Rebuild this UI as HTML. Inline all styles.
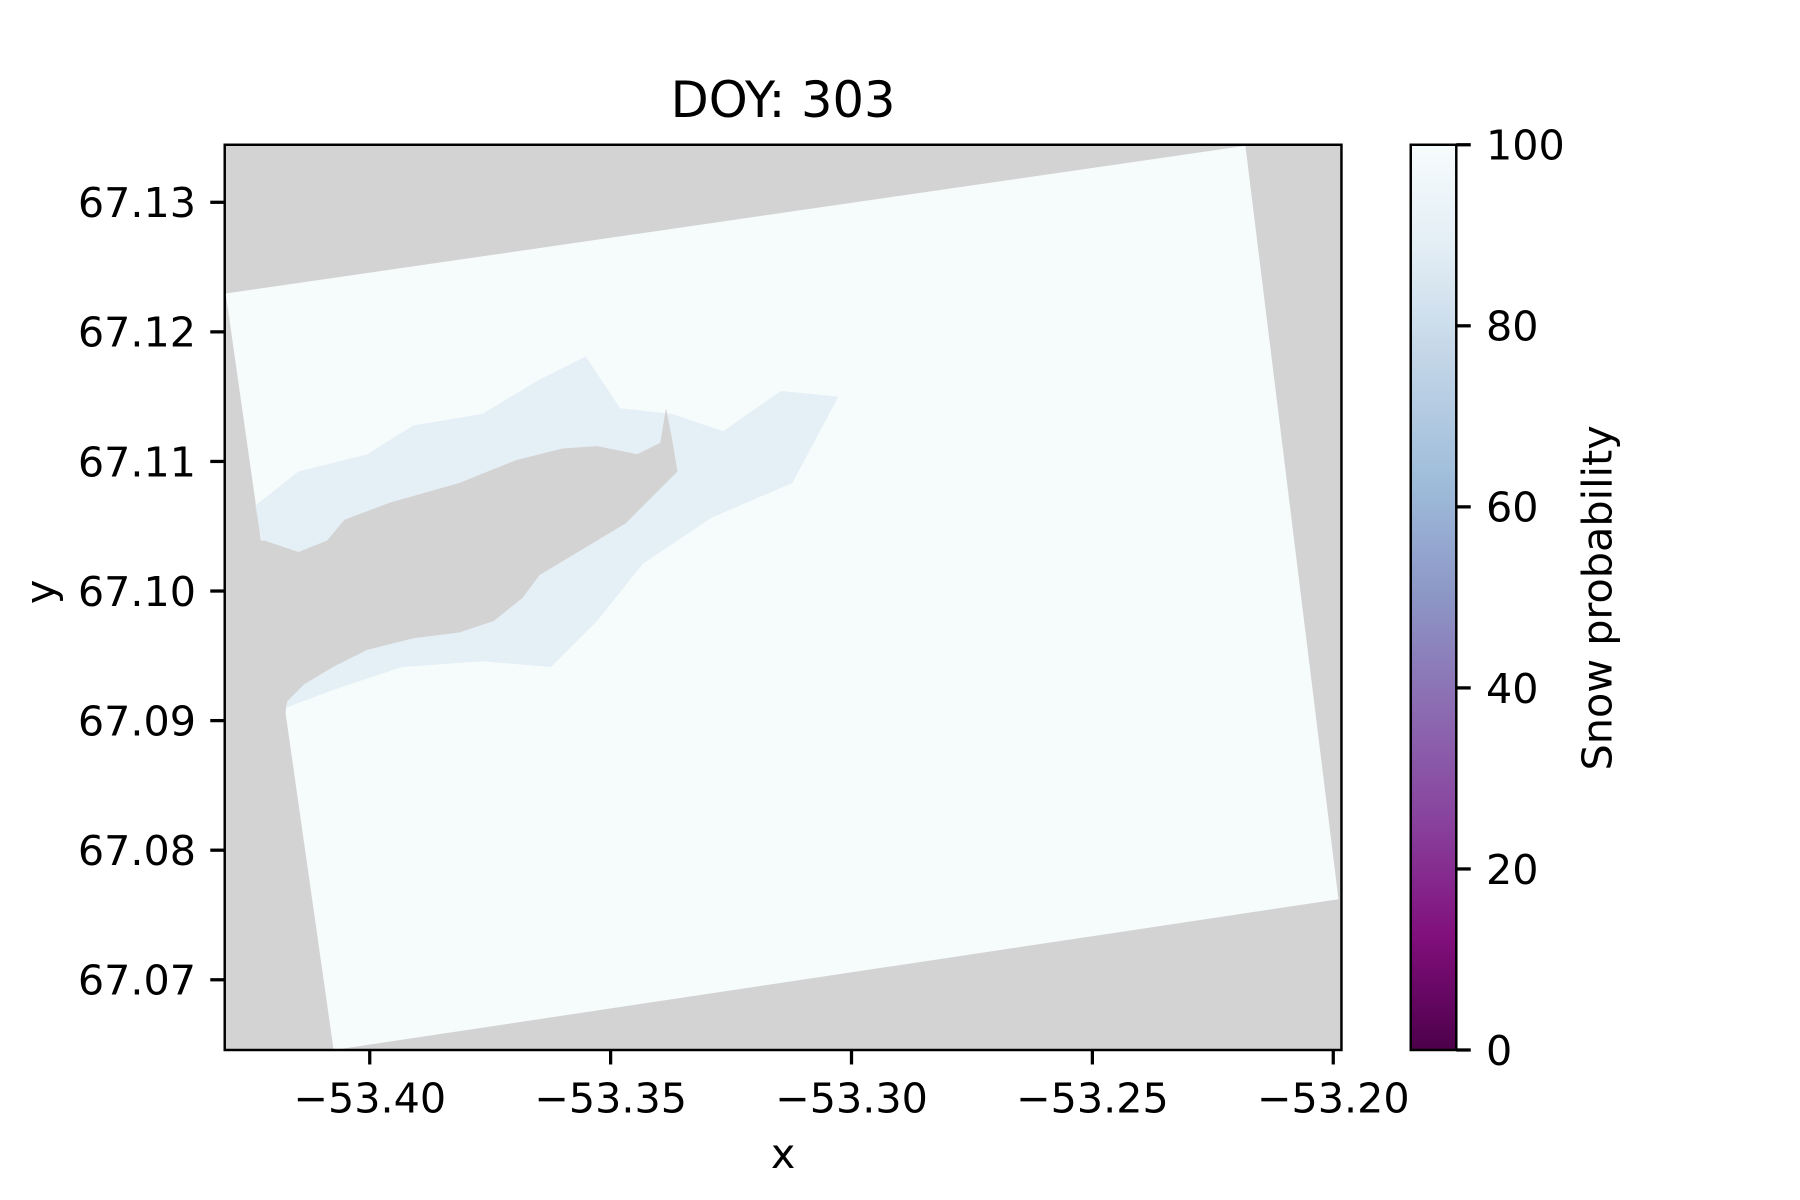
<!DOCTYPE html>
<html><head><meta charset="utf-8"><style>
body{margin:0;background:#fff;}
svg{display:block;font-family:"DejaVu Sans","Liberation Sans",sans-serif;}
</style></head><body>
<svg id="fig" width="1800" height="1200" viewBox="0 0 1800 1200">
<defs>
<linearGradient id="bupu" x1="0" y1="1" x2="0" y2="0">
<stop offset="0" stop-color="#4d004b"/><stop offset="0.125" stop-color="#810f7c"/>
<stop offset="0.25" stop-color="#88419d"/><stop offset="0.375" stop-color="#8c6bb1"/>
<stop offset="0.5" stop-color="#8c96c6"/><stop offset="0.625" stop-color="#9ebcda"/>
<stop offset="0.75" stop-color="#bfd3e6"/><stop offset="0.875" stop-color="#e0ecf4"/>
<stop offset="1" stop-color="#f7fcfd"/></linearGradient>
<clipPath id="ax"><rect x="227" y="146" width="1128" height="913"/></clipPath>
</defs>
<g transform="scale(0.990,0.9915)">
<g id="plot" clip-path="url(#ax)"></g>
<g id="axes"></g>
</g>
</svg>
<script>
const xTicks=[-53.40,-53.35,-53.30,-53.25,-53.20];
const yTicks=[67.07,67.08,67.09,67.10,67.11,67.12,67.13];
const cbTicks=[0,20,40,60,80,100];
const xLim=[-53.4301,-53.1983], yLim=[67.06458,67.13444];
const L=227,R=1355,T=146,B=1059;
const sx=v=>L+(v-xLim[0])/(xLim[1]-xLim[0])*(R-L);
const sy=v=>B-(v-yLim[0])/(yLim[1]-yLim[0])*(B-T);
const NS="http://www.w3.org/2000/svg";
function mk(tag,attrs,parent){const e=document.createElementNS(NS,tag);for(const k in attrs)e.setAttribute(k,attrs[k]);parent.appendChild(e);return e;}
const plot=document.getElementById('plot'),axes=document.getElementById('axes');
let bg=mk('rect',{x:L,y:T,width:R-L,height:B-T,fill:'#d3d3d3'},plot);


let sc=mk('polygon',{points:'228,296 1258,147 1352,907 337,1059',fill:'#f6fbfc'},plot);


const k=1.1598;
const sp=a=>a.map(p=>(p[0]*k).toFixed(1)+','+(p[1]*k).toFixed(1)).join(' ');
let z1=mk('polygon',{points:sp([[222,440],[260,410],[320,395],[360,370],[420,360],[470,330],[510,310],[540,355],[585,360],[630,375],[680,340],[730,345],[690,420],[620,450],[590,470],[560,490],[520,540],[480,580],[420,575],[350,580],[290,600],[250,615],[240,560],[230,480]]),fill:'#dbe7f1',opacity:0.6},plot);


let lake=mk('polygon',{points:sp([[190,470],[230,470],[260,480],[285,470],[300,452],[340,437],[400,420],[450,400],[490,390],[520,388],[555,395],[575,385],[580,355],[585,380],[590,410],[570,430],[545,455],[520,470],[495,485],[470,500],[455,520],[430,540],[400,550],[360,555],[320,565],[290,580],[265,595],[250,610],[248,625],[190,625]]),fill:'#d3d3d3'},plot);


let fr=mk('rect',{x:L,y:T,width:R-L,height:B-T,fill:'none',stroke:'#000','stroke-width':2.5},axes);


xTicks.forEach(v=>{const x=sx(v);
 mk('line',{x1:x,y1:B,x2:x,y2:B+14.6,stroke:'#000','stroke-width':3.3},axes);
 const t=mk('text',{x:x,y:1122,'font-size':41.7,'text-anchor':'middle'},axes);
 t.textContent='\u2212'+Math.abs(v).toFixed(2);
 
 });
yTicks.forEach(v=>{const y=sy(v);
 mk('line',{x1:L,y1:y,x2:L-14.6,y2:y,stroke:'#000','stroke-width':3.3},axes);
 const t=mk('text',{x:198,y:y+15,'font-size':41.7,'text-anchor':'end'},axes);
 t.textContent=v.toFixed(2);
 
 });
const CL=1425,CR=1471;
let cb=mk('rect',{x:CL,y:T,width:CR-CL,height:B-T,fill:'url(#bupu)',stroke:'#000','stroke-width':2.5},axes);


cbTicks.forEach(v=>{const y=B-v/100*(B-T);
 mk('line',{x1:CR,y1:y,x2:CR+14.6,y2:y,stroke:'#000','stroke-width':3.3},axes);
 const t=mk('text',{x:1501,y:y+15,'font-size':41.7},axes);
 t.textContent=String(v);
 
 });
function lab(txt,x,y,size,name,rot){const t=mk('text',{x:x,y:y,'font-size':size,'text-anchor':'middle'},axes);
 if(rot)t.setAttribute('transform','rotate(-90 '+x+' '+y+')');
 t.textContent=txt;}
lab('DOY: 303',791,118,50,'chart-title');
lab('x',791,1178,41.7,'x-axis-title');
lab('y',55,597,41.7,'y-axis-title',true);
lab('Snow probability',1628,603,41.7,'colorbar-title',true);
</script>
</body></html>
